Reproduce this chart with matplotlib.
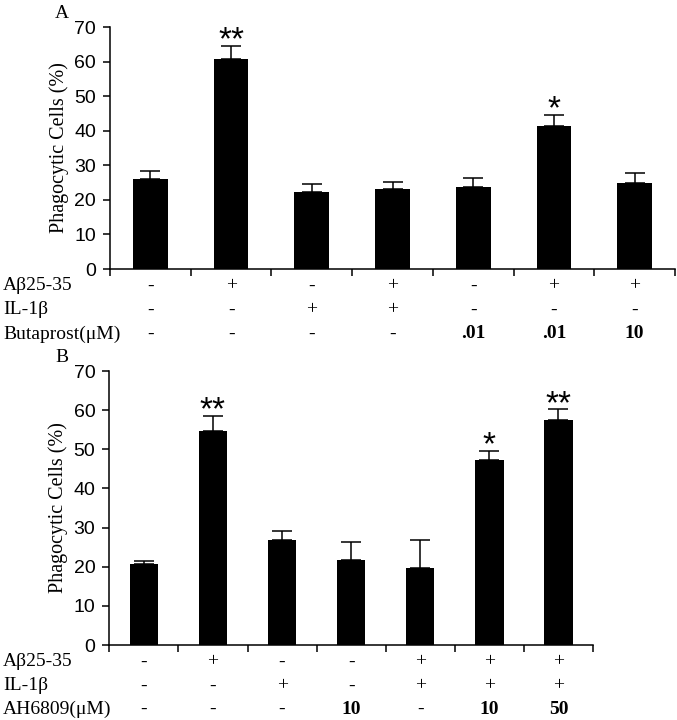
import matplotlib.pyplot as plt
from matplotlib.transforms import blended_transform_factory

# panel A: Butaprost
a_means = [25.9, 60.6, 22.4, 23.2, 23.7, 41.4, 25.0]
a_err = [2.4, 4.0, 2.1, 2.0, 2.5, 3.2, 2.9]
a_stars = ["", "**", "", "", "", "*", ""]
a_rows = ["A\u03b225-35", "IL-1\u03b2", "Butaprost(\u03bcM)"]
a_table = [
    ["-", "+", "-", "+", "-", "+", "+"],
    ["-", "-", "+", "+", "-", "-", "-"],
    ["-", "-", "-", "-", ".01", ".01", "10"],
]

# panel B: AH6809
b_means = [20.6, 54.7, 26.8, 21.7, 19.7, 47.3, 57.5]
b_err = [0.8, 3.9, 2.2, 4.6, 7.0, 2.2, 2.7]
b_stars = ["", "**", "", "", "", "*", "**"]
b_rows = ["A\u03b225-35", "IL-1\u03b2", "AH6809(\u03bcM)"]
b_table = [
    ["-", "+", "-", "-", "+", "+", "+"],
    ["-", "-", "+", "-", "+", "+", "+"],
    ["-", "-", "-", "10", "-", "10", "50"],
]

W, H = 677, 720
serif = ["Liberation Serif", "DejaVu Serif"]
sans = ["Liberation Sans Narrow", "Liberation Sans", "DejaVu Sans"]

fig = plt.figure(figsize=(W / 100, H / 100), dpi=100)


def panel(rect, means, err, stars, rows, table, bar_w, letter, letter_xy, row_y):
    ax = fig.add_axes(rect)
    x = list(range(len(means)))
    ax.bar(x, means, width=bar_w, color="black", zorder=2)
    ax.errorbar(x, means, yerr=[[0] * len(err), err], fmt="none", ecolor="black",
                elinewidth=1.1, capsize=7, capthick=1.1, zorder=1)
    for xi, m, e, s in zip(x, means, err, stars):
        if s:
            ax.annotate(s, (xi, m + e), xytext=(0, -2.5), textcoords="offset points",
                        ha="center", va="baseline", fontsize=24,
                        family=["Liberation Sans", "DejaVu Sans"])
    ax.set_xlim(-0.5, len(means) - 0.5)
    ax.set_ylim(0, 70)
    ax.set_yticks(range(0, 71, 10))
    ax.set_xticks([i - 0.5 for i in range(len(means) + 1)])
    ax.set_xticklabels([])
    for sp in ["top", "right"]:
        ax.spines[sp].set_visible(False)
    for sp in ["left", "bottom"]:
        ax.spines[sp].set_linewidth(1.1)
    ax.tick_params(direction="out", length=5, width=1.1, pad=5)
    for lab in ax.get_yticklabels():
        lab.set_family(sans)
        lab.set_fontsize(14)
    ax.set_ylabel("Phagocytic Cells (%)", family=serif, fontsize=14.5, labelpad=4)
    fig.text(letter_xy[0] / W, 1 - letter_xy[1] / H, letter, family=serif,
             fontsize=14, ha="center", va="center")
    tr = blended_transform_factory(ax.transData, fig.transFigure)
    for r, (name, vals) in enumerate(zip(rows, table)):
        y = 1 - row_y[r] / H
        fig.text(3 / W, y, name, family=serif, fontsize=14, ha="left", va="center")
        for xi, v in enumerate(vals):
            bold = v not in ("-", "+")
            ax.text(xi, y, v, transform=tr, family=serif, fontsize=14,
                    fontweight="bold" if bold else "normal",
                    ha="center", va="center")
    return ax


panel([110 / W, 1 - 269 / H, 565 / W, 242 / H], a_means, a_err, a_stars,
      a_rows, a_table, 0.43, "A", (62, 14), [286, 310, 334])
panel([109.3 / W, 1 - 645 / H, 483.7 / W, 274 / H], b_means, b_err, b_stars,
      b_rows, b_table, 0.41, "B", (62, 358), [662, 686, 709])

fig.savefig("out.png", dpi=100)
